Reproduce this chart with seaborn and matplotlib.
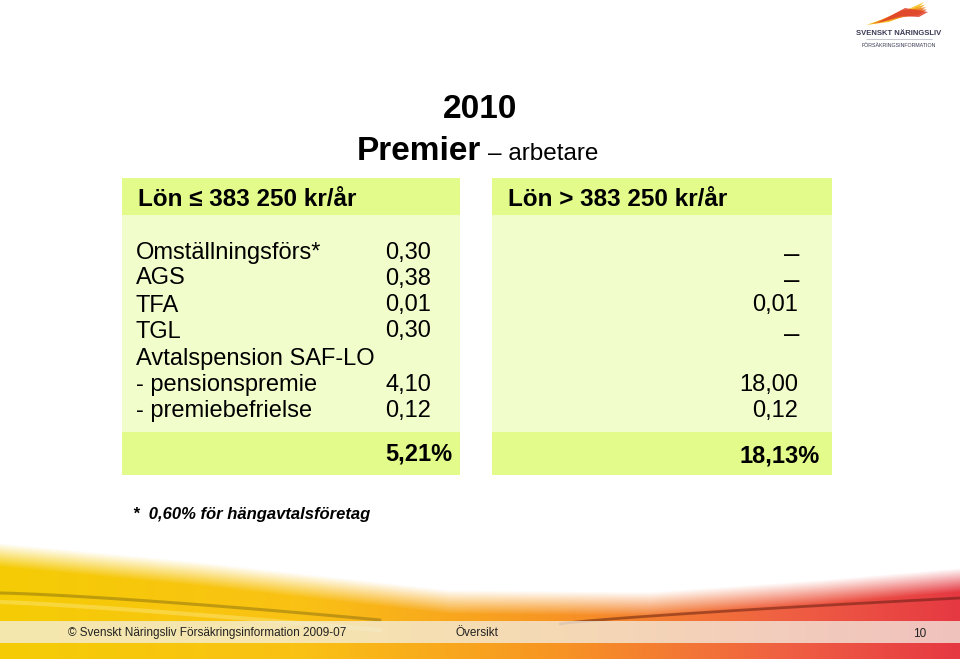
import numpy as np
import matplotlib
matplotlib.use("Agg")
import matplotlib.pyplot as plt
from matplotlib.patches import Rectangle, Polygon
import seaborn as sns

# ---------------- data ----------------
year = "2010"
title_bold = "Premier"
title_rest = "– arbetare"
header_low = "Lön ≤ 383 250 kr/år"
header_high = "Lön > 383 250 kr/år"
row_labels = ["Omställningsförs*", "AGS", "TFA", "TGL",
              "Avtalspension SAF-LO", "- pensionspremie", "- premiebefrielse"]
values_low = ["0,30", "0,38", "0,01", "0,30", "", "4,10", "0,12"]
values_high = ["–", "–", "0,01", "–", "", "18,00", "0,12"]
totals = ["5,21%", "18,13%"]
footnote = "*  0,60% för hängavtalsföretag"
footer_left = "© Svenskt Näringsliv Försäkringsinformation 2009-07"
footer_mid = "Översikt"
footer_page = "10"

# ---------------- style ----------------
sns.set_theme(style="white")
plt.rcParams["font.family"] = ["Liberation Sans", "DejaVu Sans"]
plt.rcParams["text.color"] = "black"

W, H = 960, 659
fig = plt.figure(figsize=(W / 100, H / 100), dpi=100)
ax = fig.add_axes([0, 0, 1, 1])
ax.set_xlim(0, W)
ax.set_ylim(H, 0)
ax.axis("off")

LIME = "#e3fb8a"
PALE = "#f1fdcb"

# ---------------- panels ----------------
for x0, x1 in [(122, 460), (492, 832)]:
    ax.add_patch(Rectangle((x0, 178), x1 - x0, 37, color=LIME, lw=0, zorder=1))
    ax.add_patch(Rectangle((x0, 215), x1 - x0, 217, color=PALE, lw=0, zorder=1))
    ax.add_patch(Rectangle((x0, 432), x1 - x0, 43, color=LIME, lw=0, zorder=1))

# ---------------- titles ----------------
ax.text(480, 118, year, ha="center", va="baseline", fontsize=24,
        fontweight="bold", zorder=3)
ax.text(481, 160, title_bold, ha="right", va="baseline", fontsize=24,
        fontweight="bold", zorder=3)
ax.text(488, 160, title_rest, ha="left", va="baseline", fontsize=17.5, zorder=3)

ax.text(138, 206, header_low, ha="left", va="baseline", fontsize=17.5,
        fontweight="bold", zorder=3)
ax.text(508, 206, header_high, ha="left", va="baseline", fontsize=17.5,
        fontweight="bold", zorder=3)

# ---------------- rows ----------------
row_base = [258.5, 284.5, 311.5, 337.5, 364.5, 391.5, 417.5]
for lab, vl, vh, yb in zip(row_labels, values_low, values_high, row_base):
    ax.text(136, yb, lab, ha="left", va="baseline", fontsize=17, zorder=3)
    if vl:
        ax.text(431, yb, vl, ha="right", va="baseline", fontsize=17, zorder=3)
    if vh:
        if vh == "–":
            ax.text(799, yb + 4, vh, ha="right", va="baseline", fontsize=20,
                    zorder=3)
        else:
            ax.text(798, yb, vh, ha="right", va="baseline", fontsize=17, zorder=3)

ax.text(452, 461, totals[0], ha="right", va="baseline", fontsize=17,
        fontweight="bold", zorder=3)
ax.text(820, 463, totals[1], ha="right", va="baseline", fontsize=17,
        fontweight="bold", zorder=3)

ax.text(133, 519, footnote, ha="left", va="baseline", fontsize=12,
        fontweight="bold", fontstyle="italic", zorder=3)

# ---------------- decorative swoosh ----------------
y0 = 535
ys = np.arange(y0, H) + 0.5
xs = np.arange(W) + 0.5
stops_x = [0, 300, 560, 780, 960]
stops_c = np.array([[0.96, 0.80, 0.02],
                    [0.98, 0.76, 0.08],
                    [0.97, 0.58, 0.14],
                    [0.94, 0.38, 0.26],
                    [0.90, 0.22, 0.26]])
col = np.stack([np.interp(xs, stops_x, stops_c[:, i]) for i in range(3)], axis=1)
top = np.interp(xs, [0, 200, 450, 650, 820, 960], [543, 562, 590, 592, 580, 568])
alpha = np.clip((ys[:, None] - top[None, :]) / 24.0, 0, 1)
img = np.zeros((len(ys), W, 4))
img[..., :3] = col[None, :, :]
img[..., 3] = alpha
ax.imshow(img, extent=(0, W, H, y0), origin="upper", aspect="auto",
          interpolation="bilinear", zorder=0)

# streaks
sx = np.linspace(0, 380, 60)
ax.plot(sx, 593 + 27 * (sx / 380) ** 1.3, color="#6b5a10", alpha=0.4, lw=2.2, zorder=0.5)
sx2 = np.linspace(560, 960, 60)
ax.plot(sx2, 624 - 26 * ((sx2 - 560) / 400) ** 0.8, color="#5a1a10", alpha=0.5, lw=2.0, zorder=0.5)
ax.plot(sx, 602 + 28 * (sx / 380) ** 1.2, color="#fff2a0", alpha=0.35, lw=3, zorder=0.5)

# footer bar
ax.add_patch(Rectangle((0, 621), W, 22, color="#f4f1e6", alpha=0.75, lw=0, zorder=1))
ax.text(68, 636, footer_left, ha="left", va="baseline", fontsize=8.5,
        color="#222222", zorder=3)
ax.text(455, 636, footer_mid, ha="left", va="baseline", fontsize=8.5,
        color="#222222", zorder=3)
ax.text(926, 637, footer_page, ha="right", va="baseline", fontsize=8.5,
        color="#222222", zorder=3)

# ---------------- logo ----------------
wing_cols = ["#f7c21a", "#f5a41a", "#ef8420", "#e8622a", "#e0442c"]
for i, c in enumerate(wing_cols):
    pts = [(866 + i * 3, 25 - i * 0.5), (893 + i * 3, 16 - i * 2), (924 + i, 2 + i * 2.5),
           (915 + i, 11 + i * 1.5), (889 + i * 3, 22 - i * 1.5)]
    ax.add_patch(Polygon(pts, closed=True, color=c, alpha=0.85, lw=0, zorder=3))
ax.text(899, 35, "SVENSKT NÄRINGSLIV", ha="center", va="baseline", fontsize=5.5,
        fontweight="bold", color="#3b3b55", zorder=3)
ax.plot([866, 932], [39, 39], color="#9a9aaa", lw=0.4, zorder=3)
ax.text(899, 47, "FÖRSÄKRINGSINFORMATION", ha="center", va="baseline", fontsize=3.8,
        color="#3b3b55", zorder=3)

fig.savefig("out.png", dpi=100)
